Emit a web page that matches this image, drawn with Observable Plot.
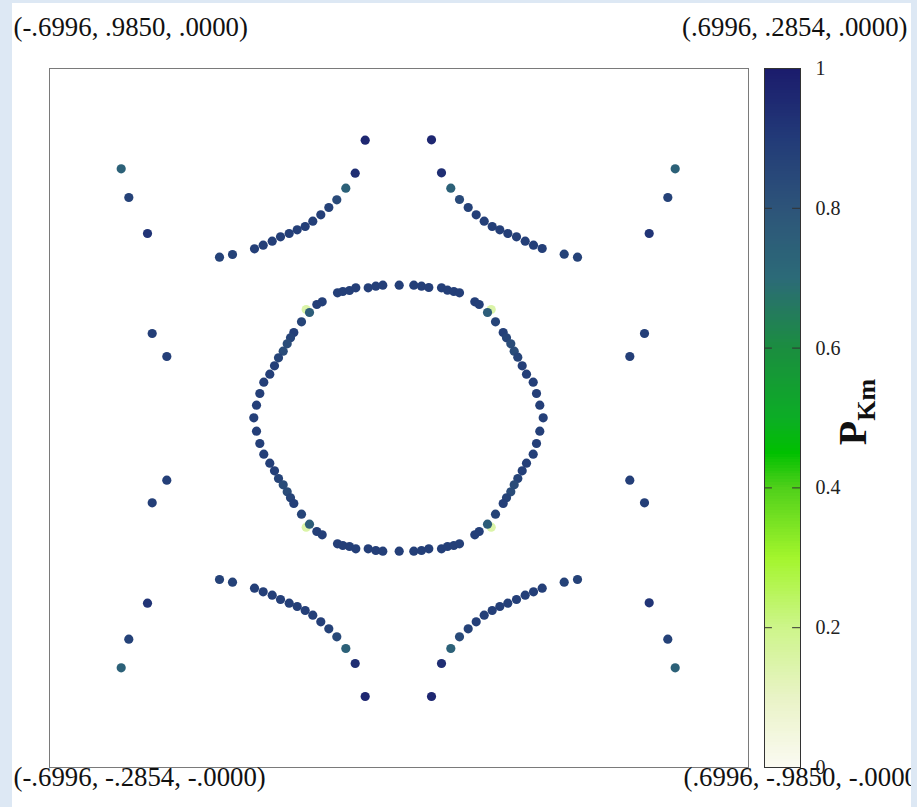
<!DOCTYPE html>
<html><head><meta charset="utf-8">
<script src="https://cdn.jsdelivr.net/npm/d3@7"></script>
<script src="https://cdn.jsdelivr.net/npm/@observablehq/plot@0.6"></script>
<style>
html,body{margin:0;padding:0;background:#dde8f4;width:917px;height:807px;overflow:hidden}
#panel{position:absolute;left:12px;top:3px;width:899px;height:804px;background:#fff;overflow:hidden}
#stage{position:absolute;left:-12px;top:-3px;width:917px;height:807px}
#stage svg{position:absolute;left:0;top:0;max-width:none}
#cblabel{position:absolute;left:856px;top:412px;transform:translate(-50%,-50%) rotate(-90deg);font-family:"Liberation Serif",serif;font-weight:bold;font-size:40px;line-height:1;white-space:nowrap;color:#111}
#cblabel sub{font-size:26px}
</style></head>
<body>
<div id="panel"><div id="stage"><div id="cblabel">P<sub>Km</sub></div></div></div>
<script>
// Corner coordinate labels
const cornerLabels = ["(-.6996, .9850, .0000)", "(.6996, .2854, .0000)", "(-.6996, -.2854, -.0000)", "(.6996, -.9850, -.0000)"];
// Colour bar
const colorTicks = [0, 0.2, 0.4, 0.6, 0.8, 1];
const colorStops = [0, 0.1, 0.2, 0.3, 0.4, 0.45, 0.5, 0.6, 0.7, 0.8, 0.9, 1];
const colorRange = ["#fbfaf2", "#e9f3c6", "#cdf58a", "#a3f52c", "#4fd01a", "#00c000", "#0cad25", "#1b8d40", "#2c6a78", "#2d5479", "#223a78", "#1b1b6c"];

// Outer arcs (TL, TR, BL, BR)
const arcX = [71.7,79.3,98,170,183,205,213.7,222.7,231,239.7,247.7,255.7,263.3,271.3,279.3,287.3,296.3,305.7,315.7,
  382,392,401.3,410,418.7,426.7,434.7,442.7,450.3,458.3,467,475.7,484,492.7,514.7,528,599.7,618.3,625.7,
  71.7,79.3,98,170,183,205,213.7,222.7,231,239.7,247.7,255.7,263.3,271.3,279.3,287.3,296.3,305.7,315.7,
  382,392,401.3,410,418.7,426.7,434.7,442.7,450.3,458.3,467,475.7,484,492.7,514.7,528,599.7,618.3,625.7];
const arcY = [598.7,570,534,510.3,513,518.7,522.3,526.3,530.7,534,537.7,541,546.3,552.7,560,567.7,579.3,594.3,627.3,
  627.7,594.7,579.3,568,560,552.7,546.3,541,537.7,534,530.7,526.3,522.3,519,513.3,510.3,534,570,598.7,
  99.7,128.3,164.3,188,185.3,179.3,175.7,172.3,168,164.3,161,157,152.3,145.7,138.7,130.7,119,104,71,
  71,104,119,130.7,138.7,145.7,152.3,157,161,164.3,168,172.3,175.7,179.3,185.3,188,164.7,128.3,99.7];
const arcP = [.74,.87,.92,.87,.87,.88,.88,.88,.88,.88,.88,.88,.88,.88,.87,.84,.74,.94,.96,
  .96,.94,.74,.84,.87,.88,.88,.88,.88,.88,.88,.88,.88,.88,.87,.87,.92,.87,.74,
  .74,.87,.92,.87,.87,.88,.88,.88,.88,.88,.88,.88,.88,.88,.87,.84,.74,.94,.96,
  .96,.94,.74,.84,.87,.88,.88,.88,.88,.88,.88,.88,.88,.88,.87,.87,.92,.87,.74];

// Isolated side points
const sideX = [102.7,117.3,117.3,102.7,595,580.3,580.3,595];
const sideY = [434,411,287.3,264.7,434,411,287.3,264.7];
const sideP = [.88,.88,.88,.88,.88,.88,.88,.88];

// Central hexagonal ring: top row, left side, bottom row, right side
const hexX = [288,293.3,300,306.3,318.7,326.3,333.3,349.7,364.3,372,379.3,392,398,404.3,410,
  272.7,267.3,256.7,260,252,244.3,241,237.7,233.7,229,225,220.3,214.3,210.3,207,204.3,207,210.3,214.3,220.3,225,229,233.7,237.7,241,244.3,252,256.7,260,267.3,272.7,
  288,293.3,300,306.3,318.7,326.3,333.3,349.7,364.3,372,379.3,392,398,404.3,410,
  425.3,429.7,441.7,438,446,453.7,457,461.3,464.7,468.3,472.7,477,483.7,487,490.3,493.7,490.3,487,483.7,477,472.7,468.3,464.7,461.3,457,453.7,446,441.7,438,429.7,425.3];
const hexY = [474.7,476,477,479.7,479.7,481.3,482.3,482.3,482.3,481.3,480,479.7,477.3,476,474.7,
  465.7,463,458,455,445.7,435,429.7,423.7,416.3,409.7,401.7,393.3,385.3,374,362.3,349.7,336.3,324,313.3,304.3,296.7,289,282.7,275.7,269.7,264,253.3,240.3,243.3,236,232.7,
  223.7,222,221,218.7,218.7,217,216.3,216.3,216.3,217,218.7,218.7,221,222,223.7,
  465.7,463,458,455,445.7,435,429.7,423.7,416.3,410.3,401.7,393.3,385.3,374,362.3,349.7,336.3,324,313.3,304.3,296.7,289,282.7,275.7,269.7,264,253.3,240.3,243.3,236,232.7];
const hexP = [.88,.88,.88,.88,.88,.88,.88,.88,.88,.88,.88,.88,.88,.88,.88,
  .88,.88,.15,.76,.86,.88,.86,.83,.83,.86,.88,.88,.88,.88,.88,.88,.88,.88,.88,.88,.88,.86,.83,.83,.86,.88,.86,.15,.76,.88,.88,
  .88,.88,.88,.88,.88,.88,.88,.88,.88,.88,.88,.88,.88,.88,.88,
  .88,.88,.15,.76,.86,.88,.86,.83,.83,.86,.88,.88,.88,.88,.88,.88,.88,.88,.88,.88,.88,.86,.83,.83,.86,.88,.86,.15,.76,.88,.88];

const toPts = (X, Y, P) => X.map((x, i) => ({x, y: Y[i], p: P[i]}));
const points = [...toPts(arcX, arcY, arcP), ...toPts(sideX, sideY, sideP), ...toPts(hexX, hexY, hexP)];

const colorScale = {type: "linear", domain: colorStops, range: colorRange, interpolate: "rgb"};
const font = "'Liberation Serif', 'Times New Roman', serif";

const main = Plot.plot({
  width: 917, height: 807,
  marginLeft: 49, marginRight: 169, marginTop: 68, marginBottom: 40,
  style: {background: "transparent", fontFamily: font, fontSize: "26.8px", color: "#111", overflow: "visible"},
  x: {domain: [0, 699], axis: null},
  y: {domain: [0, 699], axis: null},
  color: colorScale,
  marks: [
    Plot.frame({stroke: "#7a7a7a", strokeWidth: 1}),
    Plot.dot(points, {x: "x", y: "y", fill: "p", r: 4.6}),
    Plot.text([cornerLabels[0]], {text: d => d, frameAnchor: "top-left", textAnchor: "start", lineAnchor: "bottom", dx: -36, dy: -33}),
    Plot.text([cornerLabels[1]], {text: d => d, frameAnchor: "top-right", textAnchor: "end", lineAnchor: "bottom", dx: 159, dy: -33}),
    Plot.text([cornerLabels[2]], {text: d => d, frameAnchor: "bottom-left", textAnchor: "start", lineAnchor: "bottom", dx: -36, dy: 18}),
    Plot.text([cornerLabels[3]], {text: d => d, frameAnchor: "bottom-right", textAnchor: "start", lineAnchor: "bottom", dx: -65, dy: 18})
  ]
});

const step = 0.004;
const barSteps = d3.range(0, 1, step);
const innerTicks = colorTicks.slice(1, -1);
const bar = Plot.plot({
  width: 917, height: 807,
  marginLeft: 764, marginRight: 117, marginTop: 68, marginBottom: 40,
  style: {background: "transparent", fontFamily: font, fontSize: "20px", color: "#222", overflow: "visible"},
  x: {domain: [0, 1], axis: null},
  y: {domain: [0, 1], axis: "right", ticks: colorTicks, tickSize: 0, tickPadding: 15, tickFormat: d => String(d), label: null},
  color: colorScale,
  marks: [
    Plot.rect(barSteps, {x1: 0, x2: 1, y1: d => d, y2: d => Math.min(1, d + step * 1.6), fill: d => d + step / 2, shapeRendering: "crispEdges"}),
    Plot.ruleY(innerTicks, {y: d => d, x1: 0, x2: 0.22, stroke: "#333"}),
    Plot.ruleY(innerTicks, {y: d => d, x1: 0.78, x2: 1, stroke: "#333"}),
    Plot.frame({stroke: "#333", strokeWidth: 1})
  ]
});

const stage = document.getElementById("stage");
stage.insertBefore(main, stage.firstChild);
stage.insertBefore(bar, document.getElementById("cblabel"));
</script>
</body></html>
